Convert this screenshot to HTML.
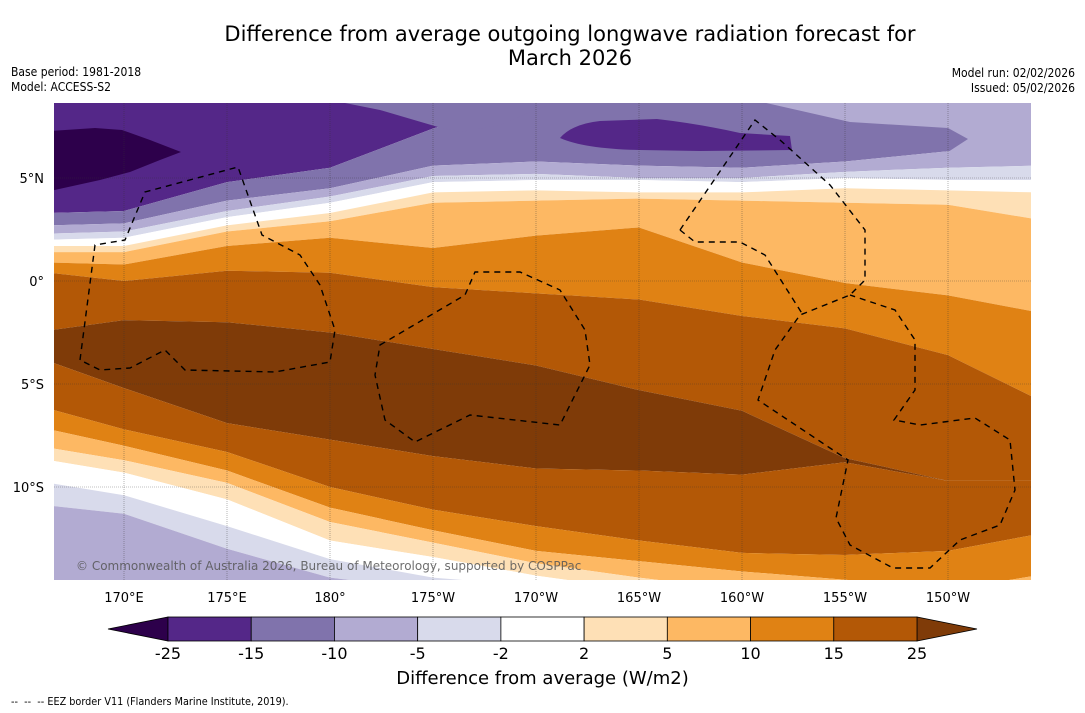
<!DOCTYPE html>
<html><head><meta charset="utf-8">
<style>
body{margin:0;background:#fff;font-family:"DejaVu Sans","Liberation Sans",sans-serif;}
#wrap{position:relative;width:1085px;height:713px;overflow:hidden;background:#fff}
.t{position:absolute;color:#000;white-space:nowrap}
svg text{font-family:"DejaVu Sans","Liberation Sans",sans-serif}
</style></head>
<body>
<div id="wrap">
<div class="t" style="left:0;width:1140px;top:22px;text-align:center;font-size:21px;line-height:24px">Difference from average outgoing longwave radiation forecast for<br>March 2026</div>
<div class="t" style="left:11px;top:65px;font-size:12px;line-height:15px;transform:scaleX(0.9);transform-origin:left">Base period: 1981-2018<br>Model: ACCESS-S2</div>
<div class="t" style="right:10px;top:66px;font-size:12px;line-height:15px;text-align:right;transform:scaleX(0.9);transform-origin:right">Model run: 02/02/2026<br>Issued: 05/02/2026</div>
<svg id="svg" width="1085" height="713" style="position:absolute;left:0;top:0"></svg>
<div class="t" style="left:0;width:1085px;top:668px;text-align:center;font-size:18px">Difference from average (W/m2)</div>
<div class="t" style="left:11px;top:695px;font-size:11px;transform:scaleX(0.88);transform-origin:left">-- &nbsp;-- &nbsp;-- EEZ border V11 (Flanders Marine Institute, 2019).</div>
</div>
<script>
const lons=[166.6,170,175,180,185,190,195,200,205,210,214];
const bounds=[
[9,9,9,9,9,9,9,9,9,9,9],
[3.3,3.4,4.8,5.5,7.4,9,9,9,9,9,9],
[2.7,2.8,3.9,4.5,5.6,5.8,5.6,5.5,5.8,6.3,6.3],
[2.3,2.4,3.4,4.1,5.1,5.2,5.0,5.0,5.3,5.5,5.6],
[2.0,2.1,3.1,3.8,4.8,4.9,4.9,4.8,5.0,4.9,4.9],
[1.7,1.7,2.7,3.3,4.3,4.4,4.3,4.3,4.5,4.4,4.3],
[1.4,1.4,2.4,2.9,3.8,3.9,4.0,3.9,3.8,3.7,3.0],
[0.9,0.8,1.7,2.1,1.6,2.2,2.6,0.9,-0.1,-0.7,-1.5],
[0.4,0.0,0.5,0.4,-0.3,-0.6,-0.9,-1.7,-2.3,-3.6,-5.7],
[-2.4,-1.9,-2.0,-2.5,-3.3,-4.1,-5.3,-6.3,-8.6,-9.7,-9.7],
[-3.9,-5.2,-6.9,-7.7,-8.5,-9.1,-9.2,-9.4,-8.8,-9.7,-9.7],
[-6.2,-7.2,-8.3,-10.0,-11.1,-11.9,-12.6,-13.2,-13.3,-13.1,-12.3],
[-7.2,-8.0,-9.2,-11.0,-12.1,-13.1,-13.6,-14.1,-14.5,-15,-14.3],
[-8.1,-8.7,-9.8,-11.7,-12.7,-13.7,-14.4,-15,-15,-15,-15],
[-8.7,-9.3,-10.6,-12.6,-13.4,-14.3,-15,-15,-15,-15,-15],
[-9.8,-10.4,-11.9,-13.5,-14.4,-14.8,-15,-15,-15,-15,-15],
[-10.9,-11.3,-13.0,-14.4,-15,-15,-15,-15,-15,-15,-15]
];
const bandLevels=[-25,-15,-10,-5,-2,0,2,5,10,15,25,15,10,5,2,0,-2,-5];
const cbLabels=["-25","-15","-10","-5","-2","2","5","10","15","25"];
const cbColors=["#542788","#8073ac","#b2abd2","#d8daeb","#ffffff","#fee0b6","#fdb863","#e08214","#b35806"];
const colorOf={"-25":"#2d004b","-15":"#542788","-10":"#8073ac","-5":"#b2abd2","-2":"#d8daeb","0":"#ffffff","2":"#fee0b6","5":"#fdb863","10":"#e08214","15":"#b35806","25":"#7f3b08"};
const lonTicks=[170,175,180,185,190,195,200,205,210];
const lonTickLabels=["170°E","175°E","180°","175°W","170°W","165°W","160°W","155°W","150°W"];
const latTicks=[5,0,-5,-10];
const latTickLabels=["5°N","0°","5°S","10°S"];

const L=54,R=1031,T=103,B=580;
const X=lon=>124+(lon-170)*20.6;
const Y=lat=>281-lat*20.6;
const NS="http://www.w3.org/2000/svg";
const svg=document.getElementById('svg');
function mk(tag,attrs,parent){const e=document.createElementNS(NS,tag);for(const k in attrs)e.setAttribute(k,attrs[k]);(parent||svg).appendChild(e);return e;}
const defs=mk('defs',{});
const cp=mk('clipPath',{id:'mc'},defs);mk('rect',{x:L,y:T,width:R-L,height:B-T},cp);
const g=mk('g',{'clip-path':'url(#mc)'});


const topB=lons.map(()=>9.5), botB=lons.map(()=>-16);
const allB=[topB,...bounds,botB];
const px=ln=>ln===lons[0]?L-5:ln===lons[lons.length-1]?R+5:X(ln);
for(let i=0;i<bandLevels.length;i++){
  const up=allB[i],lo=allB[i+1];
  let pts=[];
  lons.forEach((ln,j)=>pts.push(px(ln)+','+Y(up[j])));
  for(let j=lons.length-1;j>=0;j--){pts.push(px(lons[j])+','+Y(lo[j]));}
  const p=mk('polygon',{points:pts.join(' '),fill:colorOf[bandLevels[i]]},g);
  
  
}
const minBlob=mk('path',{d:'M50,131 L95,128 L122,130 L150,140 L181,152 L160,160 L130,172 L100,180 L50,191Z',fill:'#2d004b'},g);


const tongueCut=mk('path',{d:'M330,100 L380,110 L438,127 L460,132 L500,125 L560,100Z',fill:'#8073ac'},g);


const lightTop=mk('path',{d:'M753,100 L850,122 L948,128 L968,139 L948,152 L1035,152 L1035,100Z',fill:'#b2abd2'},g);


const blob=mk('path',{d:'M560,138 Q572,124 600,121 L657,119 Q700,124 740,133 L790,136 L792,150 L700,151 L640,150 Q585,149 560,138Z',fill:'#542788'},g);


lonTicks.forEach((ln,i)=>{
  const l=mk('line',{x1:X(ln),x2:X(ln),y1:T,y2:B,stroke:'#333','stroke-width':0.6,'stroke-dasharray':'1,1','stroke-opacity':0.6},g);
  
  const t=mk('text',{x:X(ln),y:602,'text-anchor':'middle','font-size':13,fill:'#000'});
  t.textContent=lonTickLabels[i];
  
});
latTicks.forEach((la,i)=>{
  const l=mk('line',{x1:L,x2:R,y1:Y(la),y2:Y(la),stroke:'#333','stroke-width':0.6,'stroke-dasharray':'1,1','stroke-opacity':0.6},g);
  
  const t=mk('text',{x:44,y:Y(la)+5,'text-anchor':'end','font-size':13,fill:'#000'});
  t.textContent=latTickLabels[i];
  
});
const eez=[
"M80,360 L95,245 L125,240 L145,192 L238,167 L262,235 L300,255 L320,285 L335,330 L330,362 L275,372 L185,370 L165,350 L130,368 L100,370 Z",
"M380,345 L465,295 L475,272 L520,272 L560,290 L585,330 L590,365 L560,425 L470,415 L415,442 L385,420 L375,375 Z",
"M680,230 L755,120 L780,140 L830,185 L865,230 L865,280 L850,295 L800,315 L775,350 L758,400 L848,460 L836,518 L850,545 L893,568 L930,568 L960,540 L1000,525 L1015,490 L1010,440 L975,418 L920,425 L894,420 L915,390 L915,340 L895,310 L850,295",
"M680,230 L695,242 L740,242 L765,255 L803,315"
];
eez.forEach(d=>{const p=mk('path',{d:d,fill:'none',stroke:'#000','stroke-width':1.4,'stroke-dasharray':'6,5'},g);
});
const cr=mk('text',{x:76,y:570,'font-size':12,fill:'#555','fill-opacity':0.85},g);
cr.textContent='© Commonwealth of Australia 2026, Bureau of Meteorology, supported by COSPPac';

const cbL=168,cbR=917,cbT=617,cbB=641,w=(cbR-cbL)/cbColors.length;
const lt=mk('polygon',{points:`108,629 ${cbL},${cbT} ${cbL},${cbB}`,fill:'#2d004b',stroke:'#000','stroke-width':0.8});

const rt=mk('polygon',{points:`977,629 ${cbR},${cbT} ${cbR},${cbB}`,fill:'#7f3b08',stroke:'#000','stroke-width':0.8});

cbColors.forEach((c,i)=>{const r=mk('rect',{x:cbL+i*w,y:cbT,width:w,height:cbB-cbT,fill:c,stroke:'#000','stroke-width':0.8});
});
cbLabels.forEach((s,i)=>{const t=mk('text',{x:cbL+i*w,y:659,'text-anchor':'middle','font-size':16,fill:'#000'});t.textContent=s;
});
</script>
</body></html>
